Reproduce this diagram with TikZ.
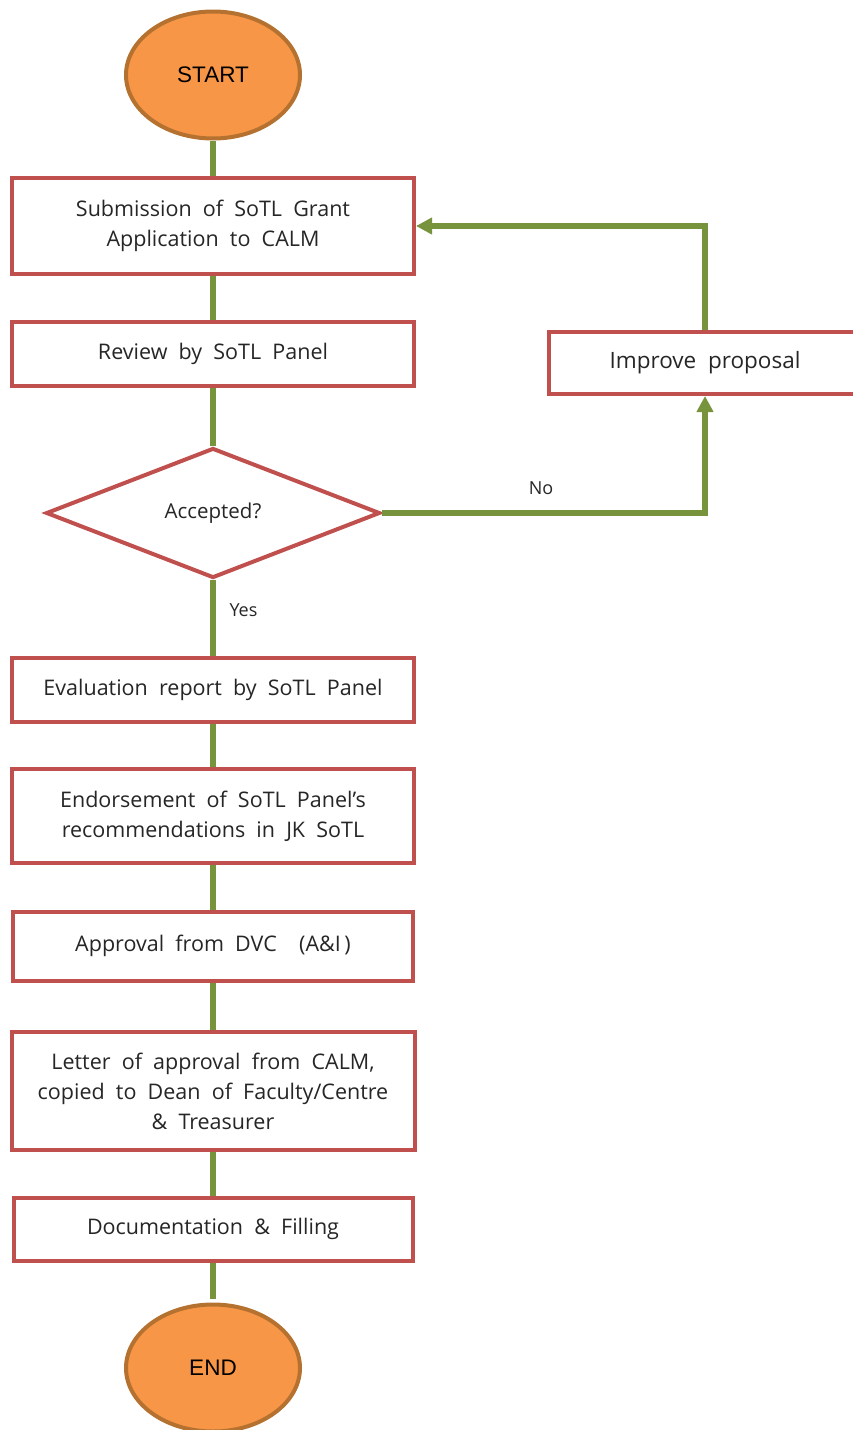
\documentclass[tikz,border=0pt]{standalone}
\usepackage{fontspec}
\setmainfont{Open Sans}[WordSpace=2]
\newfontfamily\termfont{Liberation Sans}
\usetikzlibrary{shapes.geometric,arrows.meta}
\definecolor{boxred}{HTML}{C0504D}
\definecolor{linegreen}{HTML}{77933C}
\definecolor{termfill}{HTML}{F79646}
\definecolor{termline}{HTML}{B5712F}
\tikzset{
  terminal/.style = {ellipse, draw=termline, fill=termfill, line width=4pt,
                     minimum width=174pt, minimum height=127pt,
                     font=\termfont\fontsize{22.5}{26}\selectfont},
  process/.style  = {rectangle, draw=boxred, fill=white, line width=4pt,
                     align=center, text=black!85, inner sep=2pt,
                     font=\fontsize{21.5}{30}\selectfont},
  decision/.style = {diamond, draw=boxred, fill=white, line width=4pt,
                     minimum width=334pt, minimum height=130pt, inner sep=0pt,
                     text=black!85, font=\fontsize{20.5}{24}\selectfont},
  flow/.style     = {draw=linegreen, line width=6pt},
  back/.style     = {flow, -{Triangle[length=16pt,width=16pt]}},
  tag/.style      = {text=black!85, font=\fontsize{18}{22}\selectfont}
}

\begin{document}
\begin{tikzpicture}[x=1pt,y=-1pt]
	\useasboundingbox (0,0) rectangle (853,1430);
	% main column
	\node[terminal] (start) at (213,75) {START};
	\node[process, minimum width=402pt, minimum height=96pt] (submit) at (213,226)
		{Submission of SoTL Grant\\Application to CALM};
	\node[process, minimum width=402pt, minimum height=64pt] (review) at (213,354)
		{Review by SoTL Panel};
	\node[decision] (accept) at (213,513) {Accepted?};
	\node[process, minimum width=402pt, minimum height=64pt] (eval) at (213,690)
		{Evaluation report by SoTL Panel};
	\node[process, minimum width=402pt, minimum height=94pt] (endorse) at (213,816)
		{Endorsement of SoTL Panel's\\recommendations in JK SoTL};
	\node[process, minimum width=400pt, minimum height=69pt] (approve) at (213,946)
		{Approval from DVC\ \ (A\&I\,)};
	\node[process, minimum width=403pt, minimum height=118pt] (letter) at (213,1091)
		{Letter of approval from CALM,\\copied to Dean of Faculty/Centre\\\& Treasurer};
	\node[process, minimum width=399pt, minimum height=63pt] (docu) at (213,1229)
		{Documentation \& Filling};
	\node[terminal] (finish) at (213,1368) {END};
	% loop back
	\node[process, minimum width=312pt, minimum height=62pt,
		font=\fontsize{22.5}{26}\selectfont] (improve) at (705,363) {Improve proposal};
	\node[tag] (no) at (541,488) {No};
	\node[tag, anchor=west] (yes) at (226,610) {Yes};

	\draw[flow] (start) -- (submit);
	\draw[flow] (submit) -- (review);
	\draw[flow] (review) -- (accept);
	\draw[flow] (accept) -- (eval);
	\draw[flow] (eval) -- (endorse);
	\draw[flow] (endorse) -- (approve);
	\draw[flow] (approve) -- (letter);
	\draw[flow] (letter) -- (docu);
	\draw[flow, shorten >=4pt] (docu) -- (finish);
	\draw[back] (accept.east) -| (improve.south);
	\draw[back] (improve.north) |- (submit.east);
\end{tikzpicture}
\end{document}
